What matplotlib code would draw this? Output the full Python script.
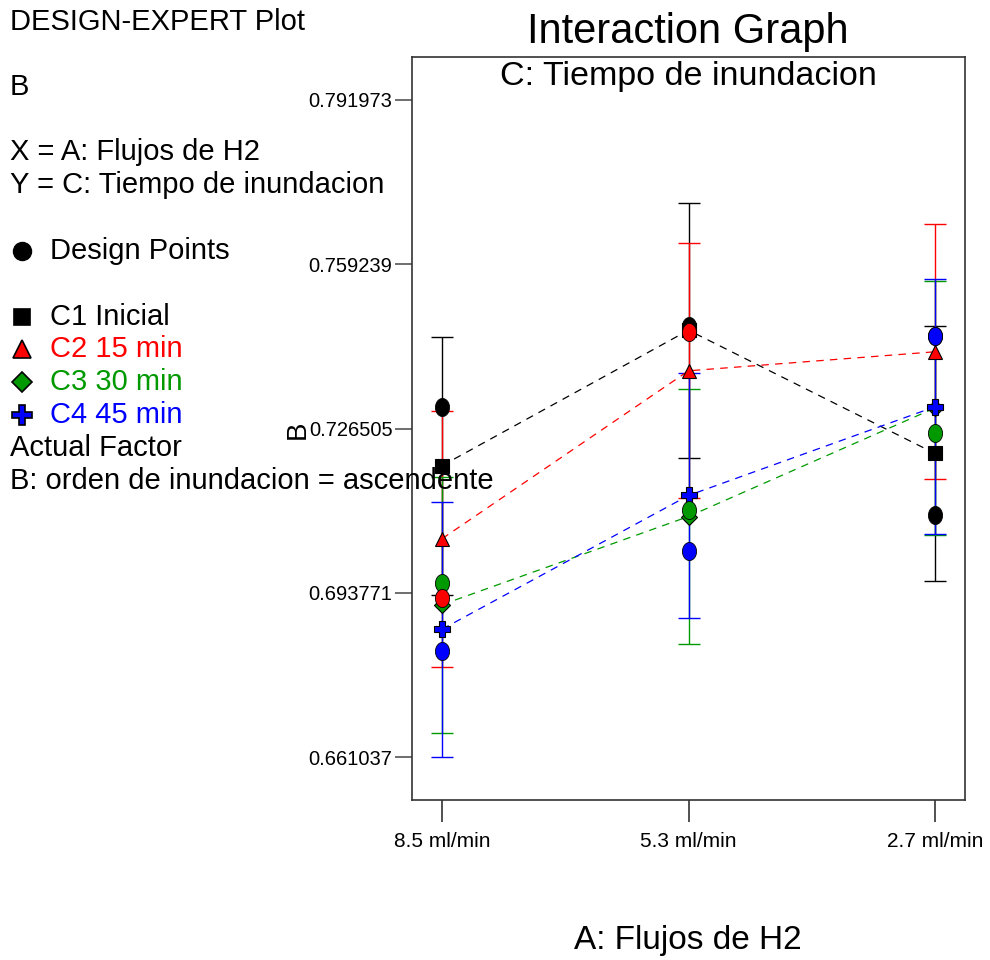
import numpy as np
import matplotlib
matplotlib.use('Agg')
import matplotlib.pyplot as plt
from matplotlib.path import Path
from matplotlib.lines import Line2D

plt.rcParams['font.family'] = ['Liberation Sans', 'DejaVu Sans']

# Data
categories = ['8.5 ml/min', '5.3 ml/min', '2.7 ml/min']
y_ticks = [0.661037, 0.693771, 0.726505, 0.759239, 0.791973]
y_tick_labels = ['0.661037', '0.693771', '0.726505', '0.759239', '0.791973']

series_names = ['C1 Inicial', 'C2 15 min', 'C3 30 min', 'C4 45 min']
series_colors = ['black', 'red', '#009900', 'blue']
series_markers = ['s', '^', 'D', 'P']

# predicted means
c1_mean = [0.71912, 0.74611, 0.72155]
c2_mean = [0.70457, 0.73802, 0.74181]
c3_mean = [0.69142, 0.70899, 0.73061]
c4_mean = [0.68654, 0.71318, 0.73085]

# LSD half-widths
c1_err = [0.0257, 0.0254, 0.0254]
c2_err = [0.0255, 0.0254, 0.0254]
c3_err = [0.0255, 0.0254, 0.0254]
c4_err = [0.0254, 0.0245, 0.0254]

# design points
c1_pts = [0.73075, 0.74695, 0.70929]
c2_pts = [0.69270, 0.74581, 0.74496]
c3_pts = [0.69569, 0.71029, 0.72569]
c4_pts = [0.68220, 0.70218, 0.74496]

means = [c1_mean, c2_mean, c3_mean, c4_mean]
errs = [c1_err, c2_err, c3_err, c4_err]
pts = [c1_pts, c2_pts, c3_pts, c4_pts]

# tall ellipse used for design points
t = np.linspace(0, 2 * np.pi, 64)
ellipse = Path(np.column_stack([0.78 * np.cos(t), np.sin(t)]), closed=True)

fig = plt.figure(figsize=(9.9, 9.6), dpi=100)
ax = fig.add_axes([412 / 990, 1 - 800 / 960, 553 / 990, 743 / 960])

x = np.arange(len(categories))

# error bars, dashed lines and mean markers
for m, e, c in zip(means, errs, series_colors):
    ax.errorbar(x, m, yerr=e, fmt='none', ecolor=c, elinewidth=1,
                capsize=8, capthick=1, zorder=2)
    ax.plot(x, m, color=c, ls=(0, (6, 5)), lw=0.9, zorder=3)
for m, c, mk in zip(means, series_colors, series_markers):
    size = {'s': 9.5, '^': 10, 'D': 8, 'P': 11}[mk]
    ax.plot(x, m, ls='none', marker=mk, ms=size, mfc=c, mec='black',
            mew=0.8, zorder=4)

# design points on top
for i in [0, 2, 1, 3]:
    ax.plot(x, pts[i], ls='none', marker=ellipse, ms=13,
            mfc=series_colors[i], mec='black', mew=0.6, zorder=5)

ax.set_xlim(-0.122, 2.122)
ax.set_ylim(0.65251, 0.80054)
ax.set_xticks(x)
ax.set_xticklabels(categories, fontsize=15)
ax.set_yticks(y_ticks)
ax.set_yticklabels(y_tick_labels, fontsize=14.5)
ax.tick_params(axis='y', direction='out', length=12, width=1.2,
               color='#555555', pad=2)
ax.tick_params(axis='x', direction='out', length=16, width=1.2,
               color='#333333', pad=7)
for s in ax.spines.values():
    s.set_linewidth(1.2)
    s.set_color('#333333')

fig.text(688 / 990, 1 - 32 / 960, 'Interaction Graph', fontsize=30,
         ha='center', va='center')
fig.text(688 / 990, 1 - 76 / 960, 'C: Tiempo de inundacion', fontsize=24.5,
         ha='center', va='center')
fig.text(688 / 990, 1 - 940 / 960, 'A: Flujos de H2', fontsize=24,
         ha='center', va='center')
fig.text(298 / 990, 1 - 430 / 960, 'B', fontsize=20, rotation=90,
         ha='center', va='center')

# left information panel
left_lines = [
    (22, 'DESIGN-EXPERT Plot', 10),
    (87, 'B', 10),
    (152, 'X = A: Flujos de H2', 10),
    (185, 'Y = C: Tiempo de inundacion', 10),
    (251, 'Design Points', 50),
    (448, 'Actual Factor', 10),
    (481, 'B: orden de inundacion = ascendente', 10),
]
for yy, txt, xx in left_lines:
    fig.text(xx / 990, 1 - yy / 960, txt, fontsize=21, color='black',
             ha='left', va='center')

fig.add_artist(Line2D([22 / 990], [1 - 251 / 960], marker='o', ms=13,
                      mfc='black', mec='black', ls='none',
                      transform=fig.transFigure))
legend_y = [317, 349, 382, 415]
for yy, name, c, mk in zip(legend_y, series_names, series_colors, series_markers):
    size = {'s': 12, '^': 13, 'D': 10.5, 'P': 14}[mk]
    fig.add_artist(Line2D([22 / 990], [1 - yy / 960], marker=mk, ms=size,
                          mfc=c, mec='black', mew=1.2, ls='none',
                          transform=fig.transFigure))
    fig.text(50 / 990, 1 - yy / 960, name, fontsize=21, color=c,
             ha='left', va='center')

fig.savefig('out.png', dpi=100)
